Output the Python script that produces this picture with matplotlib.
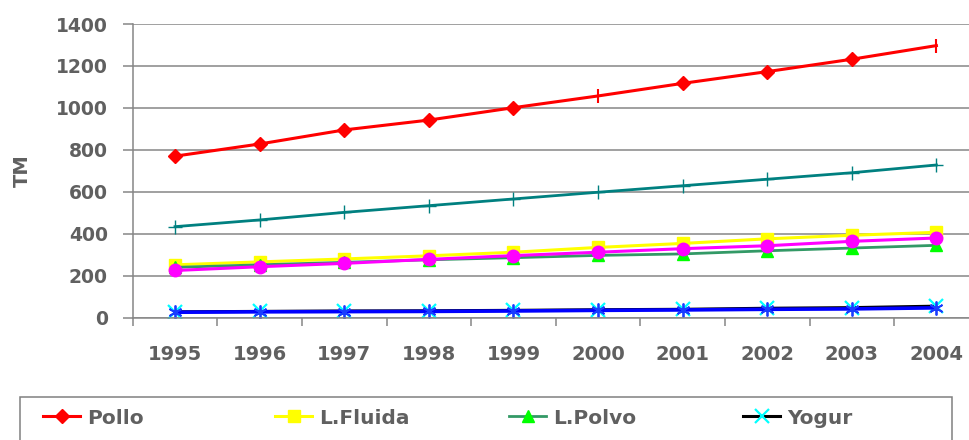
import numpy as np
import matplotlib
matplotlib.use("Agg")
import matplotlib.pyplot as plt
from matplotlib.patches import Rectangle

# datos (TM por año)
years = ["1995", "1996", "1997", "1998", "1999", "2000", "2001", "2002", "2003", "2004"]
pollo = [770, 828, 895, 942, 1001, 1057, 1117, 1173, 1232, 1297]
l_fluida = [252, 266, 280, 295, 312, 335, 354, 376, 393, 407]
l_polvo = [240, 252, 264, 276, 286, 297, 304, 319, 332, 345]
yogur = [28, 30, 32, 33, 35, 38, 40, 45, 48, 55]
serie_5 = [434, 466, 502, 534, 566, 598, 629, 660, 691, 728]
serie_6 = [225, 243, 259, 278, 296, 312, 329, 343, 364, 380]
serie_7 = [26, 28, 29, 30, 32, 35, 37, 40, 42, 47]
legend_labels = ["Pollo", "L.Fluida", "L.Polvo", "Yogur"]

TXT = "#606060"
GRID = "#868686"
W, H = 969, 440

fig = plt.figure(figsize=(W / 100, H / 100), dpi=100)
ax = fig.add_axes([132.7 / W, 1 - 317.7 / H, 846 / W, 293.7 / H])

x = np.arange(len(years))

h_pollo, = ax.plot(x, pollo, color="#ff0000", lw=2.2, marker="D", ms=6.8,
                   markevery=[0, 1, 2, 3, 4, 6, 7, 8])
ax.plot(x, pollo, ls="none", color="#ff0000", marker="|", ms=9.5, mew=1.5,
        markevery=[5, 9])
h_fluida, = ax.plot(x, l_fluida, color="#ffff00", lw=2.2, marker="s", ms=9)
h_polvo, = ax.plot(x, l_polvo, color="#339966", lw=2.0, marker="^", ms=9,
                   mfc="#00ff00", mec="#00ff00")
h_yogur, = ax.plot(x, yogur, color="#000000", lw=2.2, marker="x", ms=10,
                   mec="#00ffff", mew=1.6)
ax.plot(x, serie_5, color="#008080", lw=2.0, marker="+", ms=10, mew=1.0)
ax.plot(x, serie_6, color="#ff00ff", lw=2.2, marker="o", ms=9)
ax.plot(x, serie_7, color="#0000ff", lw=2.6, marker=(6, 2, 0), ms=10, mew=1.3,
        mec="#1a3cff")

ax.set_xlim(-0.5, 9.5)
ax.set_ylim(0, 1400)
ax.set_yticks(range(0, 1401, 200))
ax.set_xticks(np.arange(-0.5, 10, 1))
ax.set_xticks(x, minor=True)
ax.set_xticklabels([])
ax.set_xticklabels(years, minor=True)

ax.tick_params(axis="x", which="major", length=6, width=1.1, color=GRID, direction="out")
ax.tick_params(axis="x", which="minor", length=0, pad=19.5, labelsize=14,
               labelcolor=TXT)
ax.tick_params(axis="y", which="major", length=7, width=1.1, color=GRID, pad=10.8,
               labelsize=13.5, labelcolor=TXT)
for lab in ax.get_xticklabels(minor=True) + ax.get_yticklabels():
    lab.set_fontweight("bold")

ax.grid(axis="y", color=GRID, lw=1.1)
ax.set_axisbelow(True)
for s in ["top", "right"]:
    ax.spines[s].set_visible(False)
for s in ["left", "bottom"]:
    ax.spines[s].set_color(GRID)
    ax.spines[s].set_linewidth(1.1)

ax.set_ylabel("TM", fontsize=14, fontweight="bold", color=TXT, ha="center", va="center")
ax.yaxis.set_label_coords((22 - 132.7) / 846, 0.5)

# leyenda (solo se ve la primera fila)
fig.add_artist(Rectangle((20 / W, -0.2), (952 - 20) / W, 0.2 + 1 - 396.7 / H,
                         transform=fig.transFigure, fill=False,
                         edgecolor="#808080", lw=1.1))
handles = [h_pollo, h_fluida, h_polvo, h_yogur]
starts = [43, 275, 509, 743]
for h, lab, xs in zip(handles, legend_labels, starts):
    fig.legend([h], [lab], loc="center left", bbox_to_anchor=(xs / W, 1 - 418 / H),
               frameon=False, borderpad=0, borderaxespad=0, handlelength=1.85,
               handletextpad=0.35, prop={"size": 14.5, "weight": "bold"},
               labelcolor=TXT)

fig.savefig("out.png", dpi=100)
